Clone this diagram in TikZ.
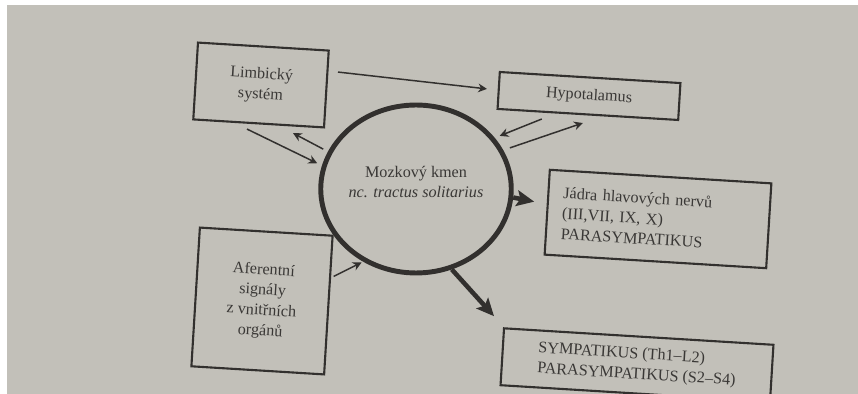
\documentclass[tikz,border=0pt]{standalone}
\usepackage{fontspec}
\setmainfont{Liberation Serif}
\usetikzlibrary{arrows.meta, shapes.geometric}
\definecolor{mypaper}{RGB}{194,192,185}
\definecolor{myink}{RGB}{50,48,46}
\definecolor{mytext}{RGB}{58,56,54}
\tikzset{
  box/.style={rectangle, draw=myink, line width=1.2pt, align=center,
    font=\fontsize{9.2}{11.6}\selectfont\color{mytext}, rotate=-3.5,
    inner sep=0pt},
  leftbox/.style={box, align=left, inner xsep=0.3cm},
  brainnode/.style={ellipse, draw=myink, line width=2.8pt, inner sep=0pt,
    minimum width=3.56cm, minimum height=3.36cm, align=center,
    font=\fontsize{9.2}{11.6}\selectfont\color{mytext}},
  arrow/.style={-{Stealth[length=5pt, width=5pt]}, line width=0.85pt, color=myink},
  thickarrow/.style={-{Stealth[length=10pt, width=9pt, inset=2pt]},
    line width=2.6pt, color=myink}
}

\begin{document}
\begin{tikzpicture}[x=0.02cm, y=-0.02cm]
  % ── Page ───────────────────────────────────────────────────────────────────
  \useasboundingbox (0,0) rectangle (858,394);
  \fill[white] (0,0) rectangle (858,394);
  \fill[mypaper] (7,5) rectangle (858,394);

  % ── Boxes ──────────────────────────────────────────────────────────────────
  \node[box, minimum width=2.62cm, minimum height=1.54cm] (limbic) at (261,85)
    {Limbický\\systém};
  \node[box, minimum width=3.62cm, minimum height=0.74cm] (hypo) at (589,96)
    {Hypotalamus};
  \node[leftbox, text width=3.84cm, minimum height=1.70cm] (jadra) at (658,219)
    {Jádra hlavových nervů\\(III,VII, IX, X)\\PARASYMPATIKUS};
  \node[box, minimum width=2.66cm, minimum height=2.78cm] (aferent) at (262,301)
    {Aferentní\\signály\\z vnitřních\\orgánů};
  \node[box, align=left, minimum width=5.40cm, minimum height=1.14cm] (symp) at (637,365)
    {SYMPATIKUS (Th1--L2)\\PARASYMPATIKUS (S2--S4)};

  % ── Brain stem (centre) ────────────────────────────────────────────────────
  \node[brainnode] (brain) at (416,189)
    {Mozkový kmen\\\textit{nc. tractus solitarius}\\[-3.5pt]\mbox{}};

  % ── Thin arrows ────────────────────────────────────────────────────────────
  \draw[arrow] ([shift={(10.6,-17)}]limbic.east) -- ([shift={(-10.7,-1.5)}]hypo.west);
  \draw[arrow, shorten >=3pt] ([shift={(-11.6,4.6)}]limbic.south) -- (brain.166);
  \draw[arrow, shorten <=3pt] (brain.157) -- ([shift={(-32,4.6)}]limbic.south east);
  \draw[arrow, shorten >=3pt] ([shift={(-46,3.5)}]hypo.south) -- (brain.33);
  \draw[arrow, shorten <=4pt] (brain.24) -- ([shift={(-5,7.5)}]hypo.south);
  \draw[arrow, shorten >=1pt] ([shift={(4.2,-28.7)}]aferent.east) -- (brain.234);

  % ── Thick arrows (outputs) ─────────────────────────────────────────────────
  \draw[thickarrow] (brain.-5) -- ([shift={(-12,-10.5)}]jadra.west);
  \draw[thickarrow] (brain.-66) -- ([shift={(-9,-11)}]symp.north west);
\end{tikzpicture}
\end{document}
